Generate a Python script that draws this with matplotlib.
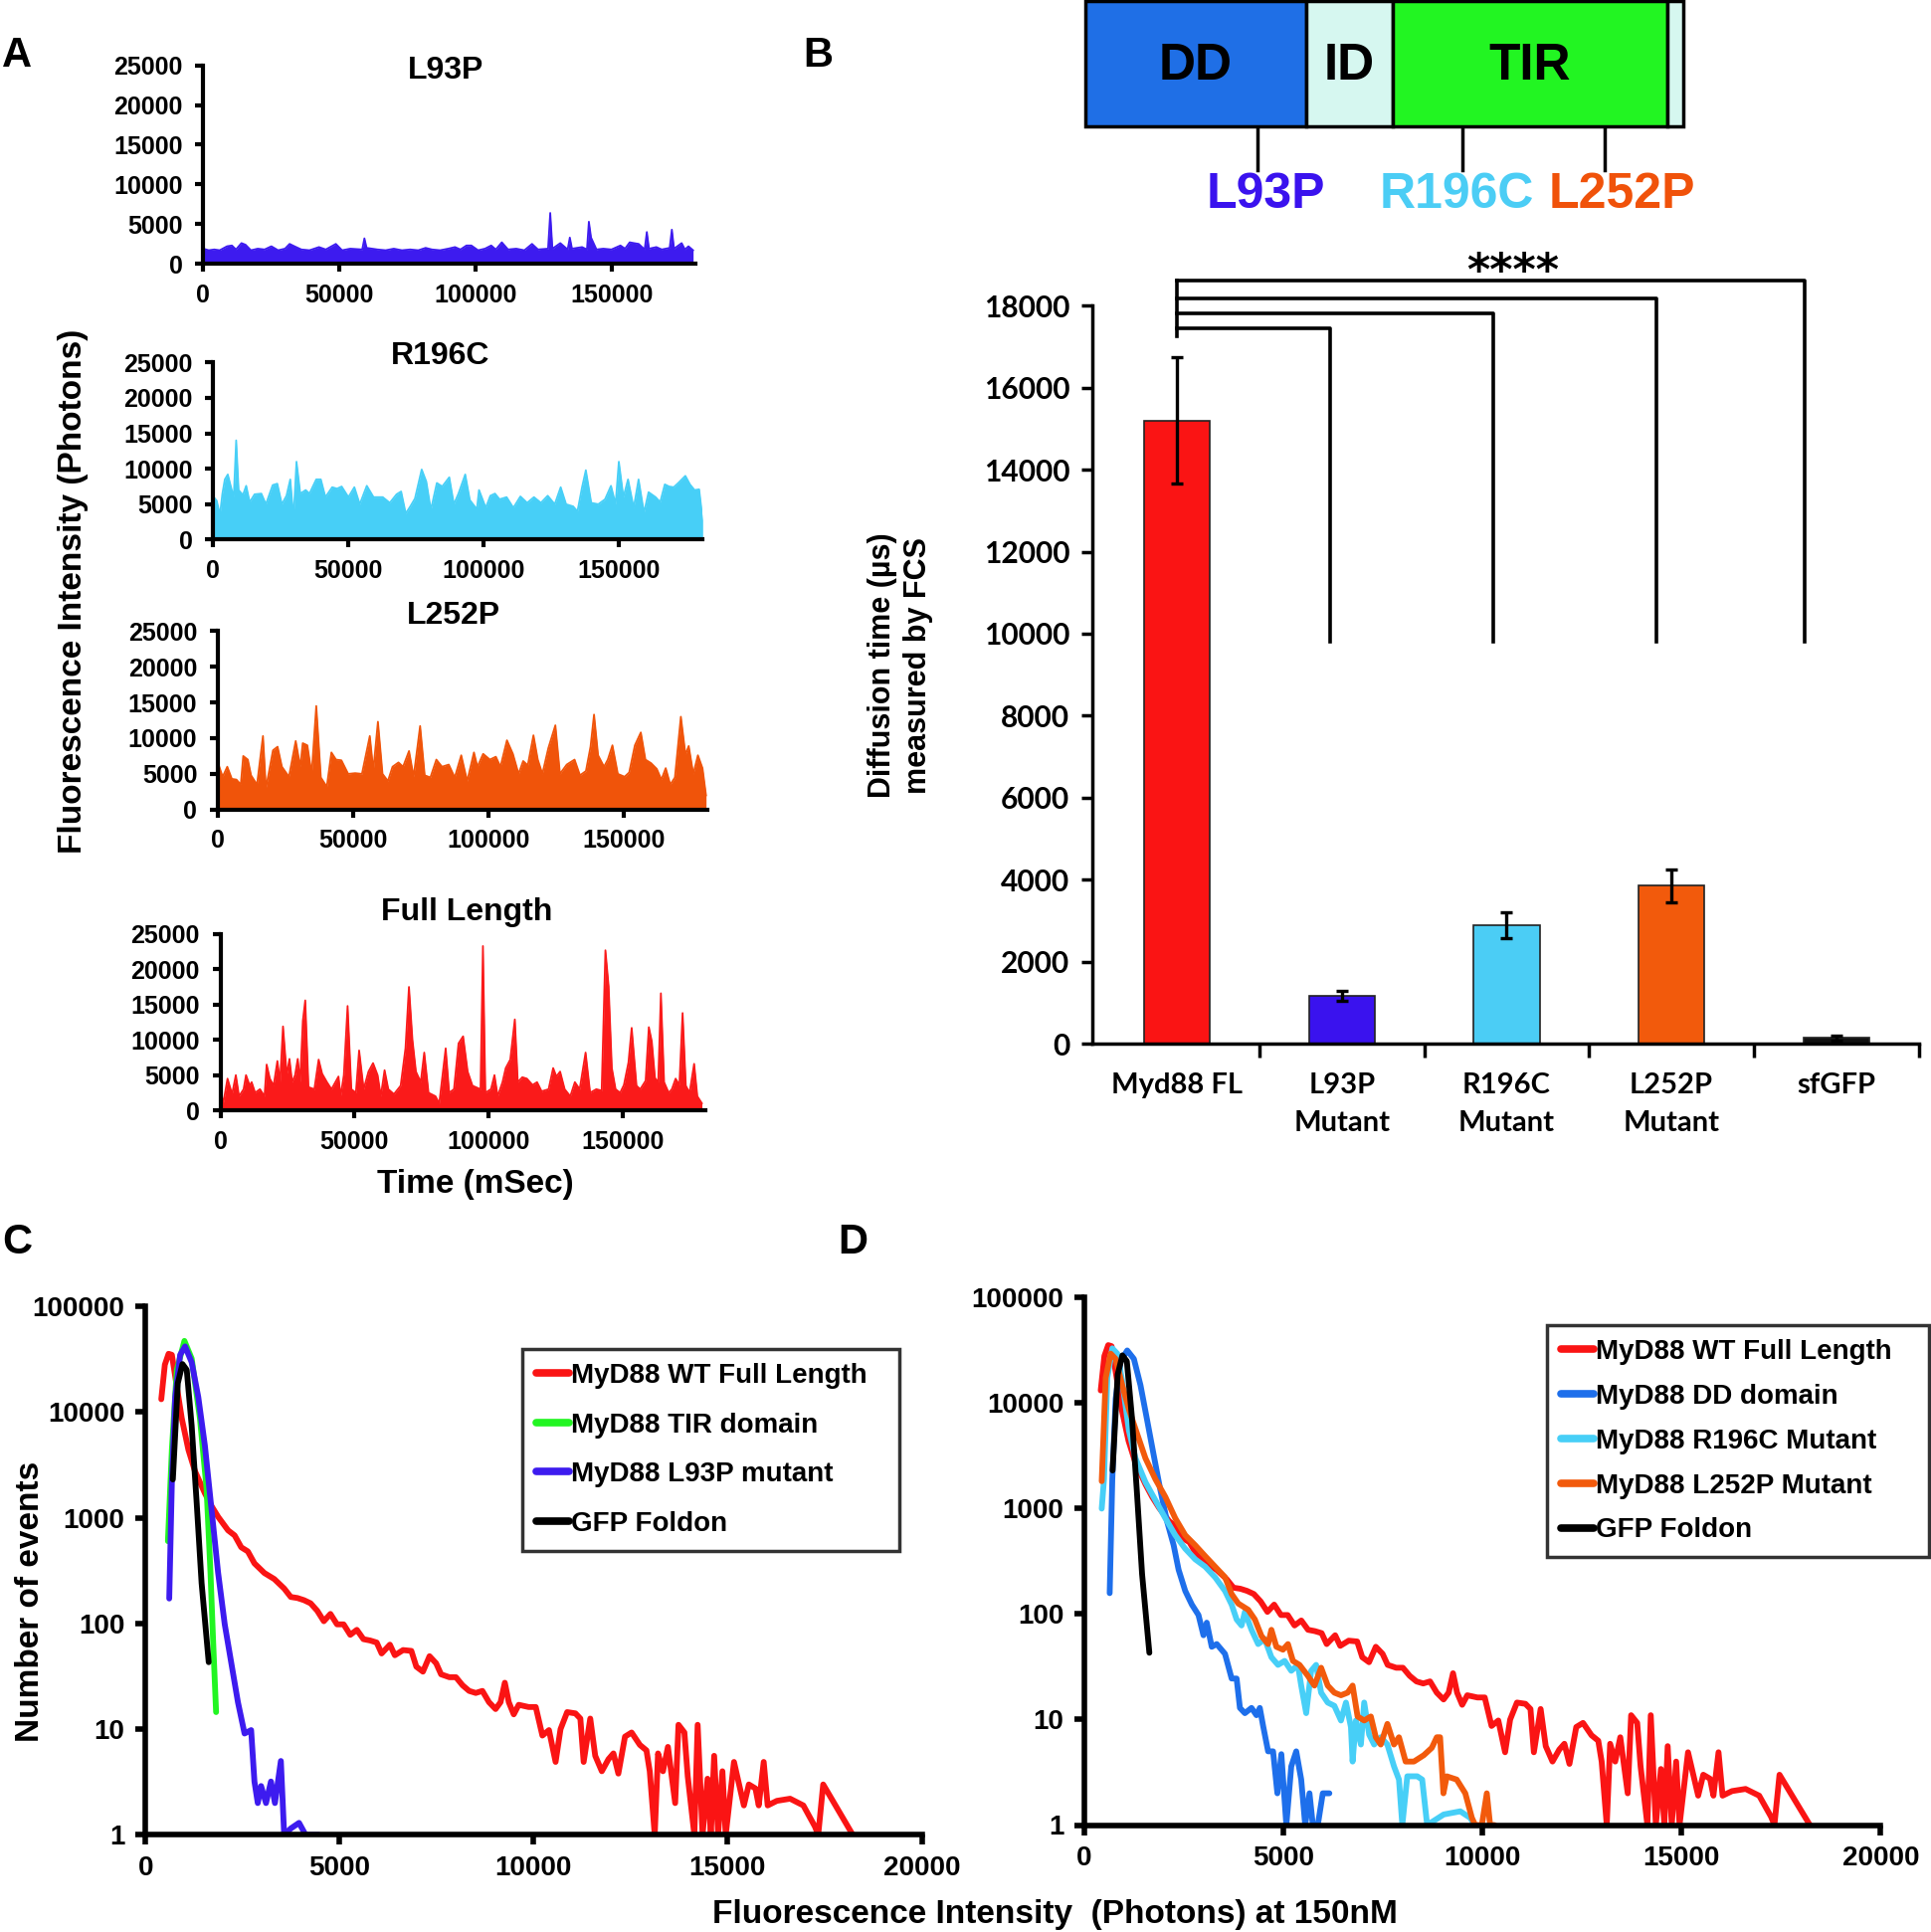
import numpy as np
import matplotlib
matplotlib.use("Agg")
import matplotlib.pyplot as plt
from matplotlib.patches import Rectangle
from matplotlib.ticker import NullLocator

# ======================= DATA =======================
# Panel A : fluorescence time traces (time in ms, intensity in photons)
l93p_t = [0, 2000, 4000, 6000, 8700, 10500, 12000, 14000, 15500, 17500,
          20000, 22500, 25000, 27500, 30000, 31700, 33500, 36000, 39000, 42500,
          45000, 48700, 51000, 54000, 58400, 59200, 60000, 64000, 67000, 70000,
          73000, 76000, 79000, 81700, 84000, 87000, 90000, 92500, 94500, 96700,
          98500, 101000, 103500, 105800, 107500, 109700, 112000, 115000, 118000, 120800,
          123000, 126700, 127500, 128300, 131200, 133900, 134700, 135500, 139200, 141000,
          141700, 142500, 144500, 147000, 150000, 153300, 155000, 156700, 158300, 160000,
          162200, 163000, 163800, 166500, 168500, 171400, 172200, 173000, 175800, 177000,
          178300, 180000]
l93p_v = [1900, 1700, 1800, 1700, 2200, 2300, 1800, 2600, 2400, 1700,
          1900, 1800, 2200, 1700, 1900, 2500, 2200, 1800, 1700, 2100,
          1800, 2500, 1700, 1900, 1800, 3200, 2000, 1800, 1700, 1900,
          1700, 1800, 1700, 2000, 1800, 1700, 1900, 2100, 1800, 2300,
          2300, 1700, 1900, 2300, 1800, 2700, 1800, 1900, 1700, 2500,
          1800, 1900, 6400, 1900, 2600, 1800, 3300, 1900, 2100, 1800,
          5300, 3300, 1800, 1900, 1800, 2300, 1900, 2700, 2600, 2500,
          1800, 4000, 1900, 2100, 1800, 2000, 4300, 1900, 2600, 1800,
          2200, 1700]

r196c_t = [0, 1300, 2500, 3400, 4300, 5400, 6800, 7600, 8500, 9400,
           11000, 12200, 13500, 15300, 17800, 19500, 22000, 23700, 25400, 27100,
           28500, 29700, 30800, 32200, 34200, 35600, 38100, 39800, 41500, 44000,
           45800, 47500, 50000, 52200, 54200, 56800, 59300, 62700, 65300, 67800,
           69500, 71200, 72900, 74600, 77100, 78800, 80500, 82700, 84700, 87300,
           89000, 90700, 93200, 94900, 97500, 98300, 100800, 102500, 104200, 105900,
           108500, 111000, 113600, 116100, 118600, 121200, 123700, 126300, 128500, 130500,
           133100, 134700, 136400, 137800, 139800, 142400, 144900, 147100, 148800, 150000,
           151700, 153400, 155500, 157300, 159300, 161000, 163600, 165300, 167000, 168600,
           170300, 172000, 174600, 176300, 178000, 179700, 181000]
r196c_v = [6100, 5500, 3500, 6500, 8500, 9200, 7100, 6000, 14000, 7000,
           6300, 7600, 5300, 6400, 6500, 5000, 7700, 7900, 5000, 6200,
           8500, 3000, 11000, 6500, 7000, 6500, 8500, 8500, 6000, 7400,
           7200, 7500, 6000, 7400, 5000, 7600, 6000, 6000, 5200, 6400,
           6800, 3700, 4700, 5800, 9900, 8200, 4200, 8000, 7500, 8800,
           5000, 6500, 9200, 5600, 4300, 7000, 4500, 6200, 6500, 5700,
           6000, 4500, 6100, 5200, 6000, 5200, 6200, 5000, 7400, 5000,
           4700, 4000, 7400, 9800, 5200, 5000, 5700, 7600, 5000, 11000,
           6000, 8500, 4500, 8500, 3800, 6700, 6000, 5300, 7800, 7500,
           7400, 8000, 9000, 7800, 7000, 7100, 2800]

l252p_t = [0, 1700, 3400, 5100, 6800, 8400, 9300, 11000, 12200, 14400,
           16600, 17700, 20300, 22000, 23600, 26200, 28700, 30400, 31300, 33000,
           34600, 36300, 38000, 40200, 41900, 43600, 45600, 48100, 50700, 53200,
           56100, 57400, 59100, 60800, 62800, 64500, 66700, 68400, 70600, 72300,
           74700, 76400, 78500, 80700, 82800, 85300, 87500, 89900, 92100, 94600,
           95900, 98000, 100500, 102700, 104400, 106800, 109000, 111100, 112800, 114500,
           116600, 118200, 119900, 122100, 124700, 126400, 128900, 131800, 133800, 136000,
           137700, 139000, 140500, 142700, 144100, 145800, 147800, 150300, 152000, 154100,
           156300, 158000, 160100, 162200, 163900, 165500, 167200, 168900, 171100, 172800,
           174000, 175700, 177400, 179100, 180400]
l252p_v = [6500, 4600, 6000, 4300, 4200, 3500, 7500, 7000, 4800, 3500,
           10300, 3000, 8300, 8800, 6000, 4600, 9600, 6000, 9300, 9000,
           5000, 14500, 4500, 3200, 8000, 7000, 6900, 5000, 5100, 5000,
           10300, 5500, 12300, 5000, 4000, 6000, 6600, 6000, 8200, 4600,
           11700, 4800, 4500, 7000, 6000, 6300, 4500, 7600, 4000, 8000,
           6000, 7800, 7000, 7400, 6000, 9700, 7800, 5000, 6800, 6200,
           10400, 7000, 5000, 8600, 11800, 5000, 6300, 7000, 4800, 5400,
           8800, 13300, 7600, 6000, 7000, 9000, 5000, 4600, 5200, 9000,
           10800, 7000, 6500, 5700, 4200, 5800, 3500, 4500, 13000, 7700,
           8900, 5000, 7600, 5800, 2000]

full_t = [0, 900, 2600, 4300, 5700, 6900, 8600, 9500, 10900, 11600,
          12900, 14700, 16400, 17200, 18400, 19800, 21200, 22200, 23300, 24700,
          25700, 26700, 27800, 28800, 29700, 30700, 31600, 32800, 35000, 36600,
          37900, 39700, 41400, 44000, 44800, 46000, 47400, 48800, 50500, 51700,
          53400, 55200, 56900, 58600, 59800, 61200, 62600, 64700, 67200, 69000,
          70300, 71600, 72900, 74700, 76000, 77600, 80200, 81600, 84000, 85300,
          87100, 88800, 90500, 92200, 94000, 97000, 97900, 98800, 100900, 102200,
          103400, 105200, 106400, 108100, 109800, 110900, 112600, 114300, 116400, 118100,
          119800, 122400, 124100, 125300, 126700, 128400, 130500, 132200, 134000, 136200,
          137900, 140200, 142200, 143600, 144800, 146000, 147400, 149100, 150500, 152200,
          153400, 155200, 156600, 158600, 159800, 160900, 162100, 163300, 164300, 165500,
          167200, 168400, 169800, 171200, 172400, 173600, 175000, 176700, 177900, 179600]
full_v = [3500, 800, 4500, 2300, 5000, 2000, 3000, 5000, 3500, 4000,
          2500, 3000, 2000, 6500, 4500, 3500, 7000, 4000, 11900, 5000,
          7300, 4000, 5000, 7300, 4000, 12700, 15600, 3300, 3000, 7200,
          5200, 4000, 3000, 4800, 2000, 5000, 14800, 3000, 2500, 8500,
          3000, 5500, 6700, 5000, 2000, 5700, 3000, 2300, 3500, 8800,
          17500, 10000, 5500, 4000, 8200, 2500, 2000, 1000, 8800, 2500,
          3000, 9500, 10500, 5500, 3500, 3000, 23300, 2500, 3000, 5000,
          2000, 4000, 6000, 7200, 12900, 4000, 4700, 4500, 3600, 4000,
          2700, 3000, 6000, 4800, 5500, 3000, 2000, 4000, 3000, 8200,
          2500, 3000, 2800, 22700, 17600, 6000, 3000, 2500, 3600, 6800,
          11700, 3500, 3000, 4200, 11800, 9800, 4600, 4000, 16600, 4000,
          2500, 3000, 4500, 3600, 13800, 3500, 2500, 6600, 2000, 1000]

trace_ticks_x = [0, 50000, 100000, 150000]
trace_ticks_y = [0, 5000, 10000, 15000, 20000, 25000]

# Panel B : domain diagram and FCS diffusion times
domain_names = ["DD", "ID", "TIR", ""]
domain_edges = [0, 179, 249, 472, 485]          # diagram units
domain_colors = ["#1F6FE6", "#D6F7F0", "#22F522", "#D6F7F0"]
mutation_names = ["L93P", "R196C", "L252P"]
mutation_sites = [140, 306, 421]
mutation_label_x = [146, 301, 435]
mutation_colors = ["#3A12EE", "#4BCDF5", "#F0520A"]

bar_labels = ["Myd88 FL", "L93P\nMutant", "R196C\nMutant", "L252P\nMutant", "sfGFP"]
bar_values = [15200, 1170, 2890, 3850, 140]
bar_errors = [1540, 130, 320, 400, 60]
bar_colors = ["#FA1414", "#3A12EE", "#4BCDF5", "#F25A0C", "#111111"]
bracket_levels = [17450, 17800, 18170, 18620]
bracket_ends = [0.93, 1.92, 2.91, 3.81]
bracket_bottom = 9800
sig_text = "****"

# Panels C and D : photon-count histograms (photons, number of events)
wt_x = [408, 500, 596, 681, 808, 936, 1106, 1277, 1532, 1702,
        1872, 2128, 2298, 2468, 2638, 2808, 3064, 3319, 3574, 3744,
        3915, 4085, 4255, 4425, 4596, 4766, 4936, 5106, 5277, 5447,
        5617, 5787, 5958, 6085, 6298, 6425, 6638, 6851, 6979, 7149,
        7319, 7489, 7617, 7830, 8000, 8170, 8340, 8510, 8681, 8851,
        9021, 9149, 9259, 9361, 9489, 9617, 9872, 10056, 10227, 10397,
        10567, 10694, 10865, 11078, 11205, 11290, 11460, 11588, 11758, 11929,
        12057, 12184, 12355, 12525, 12738, 12908, 12993, 13121, 13206, 13333,
        13461, 13648, 13733, 13886, 13971, 14142, 14227, 14354, 14482, 14567,
        14652, 14754, 14865, 14950, 15163, 15418, 15546, 15716, 15801, 15929,
        16031, 16269, 16609, 16950, 17248, 17333, 17461, 18224]
wt_y = [13200, 28000, 35500, 34700, 17400, 8700, 4400, 2750, 1700, 1290,
        1020, 760, 680, 525, 480, 370, 300, 263, 214, 178,
        174, 166, 155, 132, 105, 123, 98, 98, 78, 87,
        71, 69, 66, 52, 63, 50, 56, 55, 39, 35,
        49, 42, 33, 31, 31, 26, 23, 22, 23, 18,
        15.5, 18, 27.5, 18, 13.8, 17, 16.2, 16.2, 8.7, 9.8,
        4.9, 10, 14.5, 14.1, 12.6, 4.9, 12.6, 5.6, 4.0, 5.2,
        5.9, 3.8, 8.5, 9.3, 7.1, 6.3, 4.0, 1, 5.9, 4.0,
        6.8, 2.0, 11, 9.3, 3.6, 1, 11, 1, 3.4, 1,
        5.6, 1, 4.0, 1, 4.9, 1.9, 3.0, 2.75, 1.9, 4.9,
        1.9, 2.1, 2.2, 1.9, 1.2, 1, 3.0, 1]

tir_x = [579, 681, 808, 1004, 1191, 1404, 1574, 1676, 1745, 1820]
tir_y = [600, 4400, 25000, 47000, 32000, 8700, 1900, 300, 66, 14.5]

l93p_hx = [613, 681, 766, 894, 1021, 1191, 1362, 1532, 1702, 1872,
           2043, 2213, 2383, 2553, 2723, 2808, 2894, 2979, 3106, 3234,
           3336, 3489, 3574, 3744, 3957, 4127, 4468]
l93p_hy = [172, 2190, 13800, 34700, 41700, 29500, 13800, 4790, 1200, 302,
           98, 42, 18, 9.1, 9.8, 3.2, 2.0, 2.9, 2.0, 3.2,
           2.0, 5.0, 1, 1.15, 1.3, 1, 1]

gfp_x = [706, 834, 953, 1064, 1191, 1319, 1447, 1630]
gfp_y = [2300, 18700, 28400, 25000, 7400, 1400, 240, 43]

dd_x = [633, 699, 783, 908, 1074, 1241, 1407, 1574, 1740, 1907,
        2073, 2240, 2365, 2531, 2698, 2864, 2989, 3072, 3197, 3322,
        3530, 3697, 3822, 3905, 4030, 4196, 4321, 4405, 4488, 4613,
        4738, 4846, 4946, 5071, 5195, 5320, 5445, 5545, 5653, 5737,
        5862, 5987, 6153]
dd_y = [158, 1900, 11000, 25100, 31600, 26300, 14800, 6900, 3200, 1500,
        760, 450, 263, 166, 123, 98, 63, 83, 49, 52,
        42, 24.5, 24.5, 12.9, 11.5, 12.9, 11, 12.9, 8.7, 5.0,
        5.0, 2.0, 4.7, 1, 3.6, 5.0, 2.7, 1, 2.0, 1,
        1, 2.0, 2.0]

r196c_hx = [433, 491, 574, 699, 824, 949, 1116, 1282, 1532, 1782,
            2032, 2281, 2531, 2781, 3031, 3280, 3530, 3697, 3822, 3946,
            4030, 4196, 4363, 4529, 4696, 4862, 5029, 5195, 5362, 5445,
            5570, 5695, 5820, 5945, 6111, 6278, 6444, 6569, 6694, 6736,
            6819, 6944, 7027, 7152, 7277, 7443, 7610, 7776, 7901, 7985,
            8110, 8234, 8359, 8484, 8609, 9025, 9442, 9691, 9800]
r196c_hy = [1000, 1900, 17400, 33100, 29500, 16200, 5500, 3000, 1780, 1200,
            810, 560, 417, 331, 282, 224, 166, 123, 89, 78,
            105, 71, 52, 58, 39, 33, 36, 29, 33, 21,
            11.5, 29, 33, 18, 14.5, 13.5, 9.8, 14.5, 8.5, 4.0,
            9.8, 5.8, 14.5, 7.2, 5.8, 6.8, 5.8, 3.6, 2.7, 1,
            2.9, 2.9, 2.9, 2.7, 1, 1.26, 1.35, 1.17, 1]

l252p_hx = [433, 533, 658, 783, 949, 1116, 1324, 1532, 1782, 2032,
            2281, 2531, 2781, 3031, 3280, 3530, 3697, 3863, 4113, 4280,
            4446, 4613, 4696, 4821, 4987, 5112, 5237, 5403, 5612, 5778,
            5945, 6111, 6278, 6444, 6611, 6736, 6861, 7027, 7194, 7319,
            7443, 7610, 7776, 7901, 8068, 8276, 8526, 8726, 8851, 8934,
            9018, 9101, 9351, 9567, 9733, 9816, 9983, 10108, 10191, 10300]
l252p_hy = [1820, 17400, 29500, 26300, 14800, 8700, 5100, 3000, 1900, 1290,
            810, 560, 450, 355, 282, 224, 155, 126, 110, 89,
            62, 52, 71, 49, 46, 52, 36, 33, 26, 21,
            31, 21, 18, 17, 18, 21, 10.7, 9.8, 10.7, 6.8,
            5.8, 9.1, 5.8, 6.8, 4.0, 4.0, 4.6, 5.4, 6.8, 6.8,
            2.0, 2.9, 2.7, 2.0, 1.17, 1, 1, 2.0, 1, 1]

hist_ticks_x = [0, 5000, 10000, 15000, 20000]
hist_ticks_y = [1, 10, 100, 1000, 10000, 100000]

# ======================= FIGURE =======================
W, H = 1941, 1942
fig = plt.figure(figsize=(W / 100, H / 100), dpi=100)
fig.patch.set_facecolor("white")

ARIAL = ["Liberation Sans", "DejaVu Sans"]
NARROW = ["Liberation Sans Narrow", "Liberation Sans", "DejaVu Sans"]
CALIBRI = ["Lato", "DejaVu Sans"]
plt.rcParams["font.family"] = ARIAL
plt.rcParams["font.weight"] = "bold"


def axes_px(x0, y0, x1, y1):
    return fig.add_axes([x0 / W, 1 - y1 / H, (x1 - x0) / W, (y1 - y0) / H])


def ftext(x, y, s, **kw):
    return fig.text(x / W, 1 - y / H, s, **kw)


def style_axes(ax, lw, fam, size, tl, padx, pady):
    for s in ("top", "right"):
        ax.spines[s].set_visible(False)
    for s in ("left", "bottom"):
        ax.spines[s].set_linewidth(lw)
    ax.tick_params(axis="both", direction="out", length=tl, width=lw,
                   labelsize=size)
    ax.tick_params(axis="x", pad=padx)
    ax.tick_params(axis="y", pad=pady)
    for lbl in ax.get_xticklabels() + ax.get_yticklabels():
        lbl.set_fontfamily(fam)
        lbl.set_fontweight("bold")


# ---------- Panel A ----------
traces = [
    ((204.4, 65.7, 699.4, 265.1), l93p_t, l93p_v, "#3D1BEF", "L93P", (448, 71)),
    ((214.3, 364.2, 706.3, 542.5), r196c_t, r196c_v, "#47CFF7", "R196C", (443, 358)),
    ((219.2, 634.2, 711.3, 813.8), l252p_t, l252p_v, "#F0540A", "L252P", (456, 619)),
    ((221.7, 938.9, 709.3, 1116.1), full_t, full_v, "#FA1A1A", "Full Length", (469, 917)),
]
for rect, t, v, col, title, txy in traces:
    ax = axes_px(*rect)
    ax.fill_between(t, 0, v, color=col, lw=0)
    ax.plot(t, v, color=col, lw=1.3)
    ax.set_xlim(0, 181000)
    ax.set_ylim(0, 25000)
    ax.set_xticks(trace_ticks_x)
    ax.set_yticks(trace_ticks_y)
    ax.set_xticklabels([str(x) for x in trace_ticks_x])
    ax.set_yticklabels([str(y) for y in trace_ticks_y])
    style_axes(ax, 3.0, ARIAL, 18, 6, 8, 9)
    ftext(txy[0], txy[1], title, ha="center", va="center", fontsize=23,
          fontweight="bold", family=ARIAL)

ftext(74, 594, "Fluorescence Intensity (Photons)", rotation=90, ha="center",
      va="center", fontsize=24, fontweight="bold", family=ARIAL)
ftext(478, 1190, "Time (mSec)", ha="center", va="center", fontsize=24,
      fontweight="bold", family=ARIAL)

# ---------- Panel B : domain diagram ----------
axd = axes_px(1060, 0, 1730, 240)
sc = 601 / 485.0
axd.set_xlim(-(1091 - 1060) / sc, 485 + (1730 - 1692) / sc)
axd.set_ylim(240 / sc, 0)
axd.axis("off")
for i, name in enumerate(domain_names):
    x0, x1 = domain_edges[i], domain_edges[i + 1]
    axd.add_patch(Rectangle((x0, 1.2), x1 - x0, 101, facecolor=domain_colors[i],
                            edgecolor="black", lw=2.5, zorder=2))
    if name:
        axd.text((x0 + x1) / 2, 54, name, ha="center", va="center",
                 fontsize=37, fontweight="bold", family=NARROW, zorder=3)
for site, lx, name, col in zip(mutation_sites, mutation_label_x, mutation_names,
                               mutation_colors):
    axd.plot([site, site], [102, 138], color="black", lw=2.5, zorder=1)
    axd.text(lx, 158, name, ha="center", va="center", fontsize=36,
             fontweight="bold", color=col, family=ARIAL)

# ---------- Panel B : bar chart ----------
axB = axes_px(1097.5, 307.2, 1928.6, 1049.2)
xpos = np.arange(len(bar_labels))
axB.bar(xpos, bar_values, width=0.4, color=bar_colors, edgecolor="#222222",
        linewidth=1.2, zorder=2)
axB.errorbar(xpos, bar_values, yerr=bar_errors, fmt="none", ecolor="black",
             elinewidth=2.4, capsize=4, capthick=2.4, zorder=3)
axB.set_xlim(-0.517, 4.5)
axB.set_ylim(0, 18000)
axB.set_yticks(np.arange(0, 18001, 2000))
axB.set_yticklabels([str(int(v)) for v in np.arange(0, 18001, 2000)])
axB.set_xticks(xpos)
axB.set_xticklabels(bar_labels, linespacing=1.55)
style_axes(axB, 2.5, CALIBRI, 21.5, 8, 10, 8)
axB.tick_params(axis="x", which="major", length=0, pad=21, labelsize=21)
axB.set_xticks(np.arange(0.5, 4.6, 1.0), minor=True)
axB.tick_params(axis="x", which="minor", length=10, width=2.5, direction="out")
for lvl, xe in zip(bracket_levels, bracket_ends):
    axB.plot([0, xe, xe], [lvl, lvl, bracket_bottom], color="black", lw=2.6,
             clip_on=False, zorder=4)
axB.plot([0, 0], [17250, max(bracket_levels)], color="black", lw=2.6,
         clip_on=False, zorder=4)
axB.text(2.04, 18820, sig_text, ha="center", va="center", fontsize=32,
         fontweight="bold", family=["DejaVu Sans"], clip_on=False)
ftext(905, 669, "Diffusion time (\u00b5s)\nmeasured by FCS", rotation=90,
      ha="center", va="center", fontsize=22, fontweight="bold", family=ARIAL,
      linespacing=1.25)

# ---------- Panels C and D ----------
def hist_axes(rect, series, legend_box, lab_sp):
    ax = axes_px(*rect)
    for x, y, col, lab in series:
        ax.plot(x, y, color=col, lw=4.2, label=lab, solid_capstyle="round")
    ax.set_yscale("log")
    ax.set_ylim(1, 100000)
    ax.set_xlim(0, 20000)
    ax.set_yticks(hist_ticks_y)
    ax.set_yticklabels([str(v) for v in hist_ticks_y])
    ax.yaxis.set_minor_locator(NullLocator())
    ax.set_xticks(hist_ticks_x)
    ax.set_xticklabels([str(v) for v in hist_ticks_x])
    style_axes(ax, 4.0, ARIAL, 20, 7, 8, 8)
    x0, y0, x1 = legend_box
    leg = ax.legend(loc="upper left",
                    bbox_to_anchor=(x0 / W, 1 - y0 / H, (x1 - x0) / W, 0.0),
                    bbox_transform=fig.transFigure, borderaxespad=0,
                    mode="expand", frameon=True, fancybox=False,
                    edgecolor="black", handlelength=1.2, handletextpad=0.05,
                    labelspacing=lab_sp, borderpad=0.5,
                    prop={"family": ARIAL, "weight": "bold", "size": 20})
    leg.get_frame().set_linewidth(2.5)
    for ln in leg.get_lines():
        ln.set_linewidth(5.5)
    return ax


hist_axes((146.2, 1313.0, 926.5, 1844.4),
          [(wt_x, wt_y, "#FA1414", "MyD88 WT Full Length"),
           (tir_x, tir_y, "#22F522", "MyD88 TIR domain"),
           (l93p_hx, l93p_hy, "#3D1BEF", "MyD88 L93P mutant"),
           (gfp_x, gfp_y, "black", "GFP Foldon")],
          (525, 1356, 904), 0.85)

hist_axes((1090.1, 1304.4, 1890.3, 1834.5),
          [(wt_x, wt_y, "#FA1414", "MyD88 WT Full Length"),
           (dd_x, dd_y, "#1E6FEB", "MyD88 DD domain"),
           (r196c_hx, r196c_hy, "#47CFF7", "MyD88 R196C Mutant"),
           (l252p_hx, l252p_hy, "#F25A0C", "MyD88 L252P Mutant"),
           (gfp_x, gfp_y, "black", "GFP Foldon")],
          (1555, 1332, 1939), 0.68)

ftext(31, 1610, "Number of events", rotation=90, ha="center", va="center",
      fontsize=24, fontweight="bold", family=ARIAL)
ftext(1060, 1924, "Fluorescence Intensity  (Photons) at 150nM", ha="center",
      va="center", fontsize=24, fontweight="bold", family=ARIAL)

# panel letters
for letter, (px, py) in zip("ABCD", [(17, 56), (822, 56), (17, 1249), (857, 1249)]):
    ftext(px, py, letter, ha="center", va="center", fontsize=30,
          fontweight="bold", family=ARIAL)

fig.savefig("out.png", dpi=100, facecolor="white")
